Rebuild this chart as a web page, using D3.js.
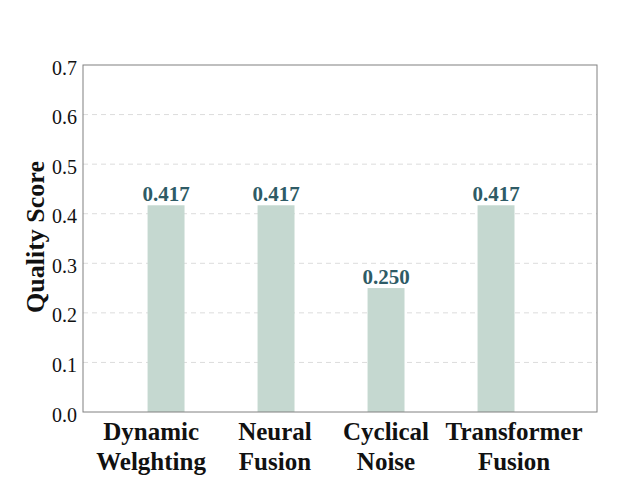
<!DOCTYPE html>
<html>
<head>
<meta charset="utf-8">
<script src="https://cdn.jsdelivr.net/npm/d3@7"></script>
<style>
  html, body { margin: 0; padding: 0; background: #fff; }
  svg { display: block; }
</style>
</head>
<body>
<svg id="chart" width="626" height="495"></svg>
<script>
const categories = [["Dynamic", "Welghting"], ["Neural", "Fusion"], ["Cyclical", "Noise"], ["Transformer", "Fusion"]];
const values = [0.417, 0.417, 0.250, 0.417];
const valueLabels = ["0.417", "0.417", "0.250", "0.417"];
const yTicks = [0.0, 0.1, 0.2, 0.3, 0.4, 0.5, 0.6, 0.7];
const labelShift = [-0.136, -0.01, 0.0, 0.164];
const yTitle = "Quality Score";

(function () {
const svg = d3.select("#chart");
const mLeft = 83, mRight = 597, mTop = 65, mBottom = 412;
const font = "'Liberation Serif', 'Times New Roman', serif";

const x = d3.scaleLinear().domain([-0.755, 3.918]).range([mLeft, mRight]);
const y = d3.scaleLinear().domain([0, 0.7]).range([mBottom, mTop]);
const barW = 0.336;

// gridlines
svg.append("g").selectAll("line")
  .data(yTicks.filter(t => t > 0 && t < 0.7))
  .join("line")
  .attr("x1", mLeft).attr("x2", mRight)
  .attr("y1", d => y(d)).attr("y2", d => y(d))
  .attr("stroke", "#dcdcdc").attr("stroke-width", 1)
  .attr("stroke-dasharray", "5,4");

// bars
svg.append("g").selectAll("rect")
  .data(values)
  .join("rect")
  .attr("x", (d, i) => x(i - barW / 2))
  .attr("width", (d, i) => x(i + barW / 2) - x(i - barW / 2))
  .attr("y", d => y(d))
  .attr("height", d => y(0) - y(d))
  .attr("fill", "#c5d8d0");

// value labels
svg.append("g").selectAll("text")
  .data(values)
  .join("text")
  .attr("x", (d, i) => x(i))
  .attr("y", d => y(d) - 4)
  .attr("text-anchor", "middle")
  .attr("font-family", font)
  .attr("font-weight", "bold")
  .attr("font-size", 21)
  .attr("fill", "#2e5b66")
  .text((d, i) => valueLabels[i]);

// frame
svg.append("rect")
  .attr("x", mLeft).attr("y", mTop)
  .attr("width", mRight - mLeft).attr("height", mBottom - mTop)
  .attr("fill", "none").attr("stroke", "#808080").attr("stroke-width", 1);

// y axis
const yAxis = d3.axisLeft(y).tickValues(yTicks).tickFormat(d3.format(".1f")).tickSize(0).tickPadding(6);
const ga = svg.append("g").attr("transform", `translate(${mLeft},0)`).call(yAxis);
ga.select(".domain").remove();
ga.selectAll("text")
  .attr("font-family", font)
  .attr("font-size", 20)
  .attr("fill", "#111")
  .attr("dy", "0.45em");

// category labels
const cg = svg.append("g");
categories.forEach((lines, i) => {
  const t = cg.append("text")
    .attr("text-anchor", "middle")
    .attr("font-family", font)
    .attr("font-weight", "bold")
    .attr("font-size", 25)
    .attr("fill", "#111");
  lines.forEach((ln, j) => {
    t.append("tspan")
      .attr("x", x(i + labelShift[i]))
      .attr("y", 440 + j * 30)
      .text(ln);
  });
});

// y title
svg.append("text")
  .attr("transform", "translate(44,237) rotate(-90)")
  .attr("text-anchor", "middle")
  .attr("font-family", font)
  .attr("font-weight", "bold")
  .attr("font-size", 26)
  .attr("fill", "#111")
  .text(yTitle);
})();
</script>
</body>
</html>
